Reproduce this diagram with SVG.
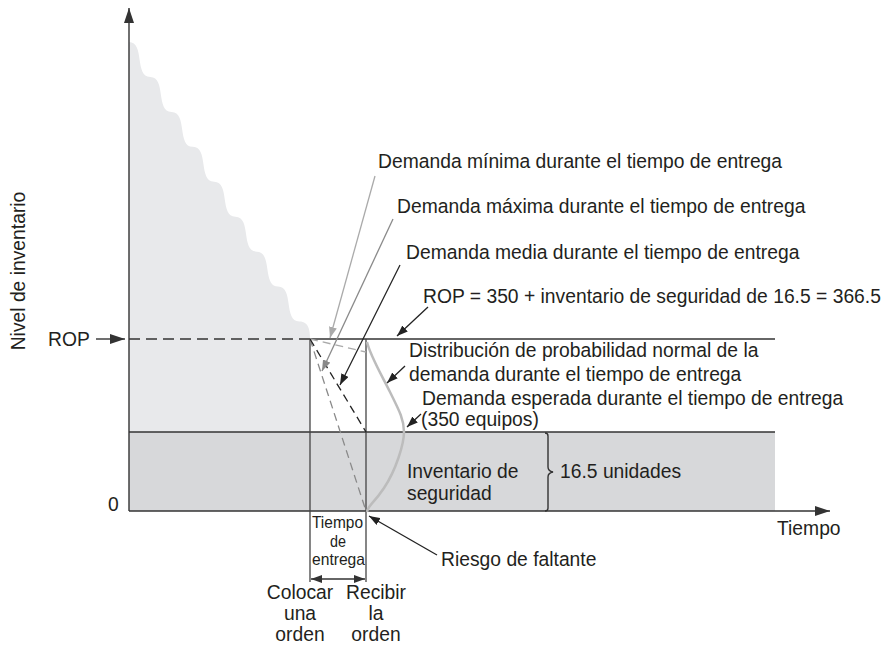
<svg xmlns="http://www.w3.org/2000/svg" width="891" height="646" viewBox="0 0 891 646">
<style>
text{font-family:"Liberation Sans",Arial,sans-serif;font-size:19.3px;fill:#231f20}
.ax{stroke:#333;stroke-width:1.4;fill:none}
.ln{stroke:#444;stroke-width:1.3;fill:none}
.cb{stroke:#222;stroke-width:1.3;fill:none}
.cg{stroke:#8a8a8a;stroke-width:1.3;fill:none}
.cl{stroke:#aaa;stroke-width:1.3;fill:none}
.mid{text-anchor:middle}
.lt{font-size:16.5px}
</style>
<defs>
<marker id="ab" markerUnits="userSpaceOnUse" markerWidth="12" markerHeight="8" refX="11" refY="4" orient="auto"><path d="M0,0 L11,4 L0,8 z" fill="#222"/></marker>
<marker id="ag" markerUnits="userSpaceOnUse" markerWidth="12" markerHeight="8" refX="11" refY="4" orient="auto"><path d="M0,0 L11,4 L0,8 z" fill="#8a8a8a"/></marker>
<marker id="al" markerUnits="userSpaceOnUse" markerWidth="12" markerHeight="8" refX="11" refY="4" orient="auto"><path d="M0,0 L11,4 L0,8 z" fill="#aaa"/></marker>
<marker id="ax" markerUnits="userSpaceOnUse" markerWidth="16" markerHeight="10" refX="15" refY="5" orient="auto"><path d="M0,0 L15,5 L0,10 z" fill="#333"/></marker>
<marker id="ae" markerUnits="userSpaceOnUse" markerWidth="12" markerHeight="8" refX="11" refY="4" orient="auto-start-reverse"><path d="M0,0 L11,4 L0,8 z" fill="#333"/></marker>
</defs>

<g id="inventory-area">
<path d="M129,42 c16,0 5.3,34.94 21.294,34.94 c16,0 5.3,34.94 21.294,34.94 c16,0 5.3,34.94 21.294,34.94 c16,0 5.3,34.94 21.294,34.94 c16,0 5.3,34.94 21.294,34.94 c16,0 5.3,34.94 21.294,34.94 c16,0 5.3,34.94 21.294,34.94 c16,0 5.3,34.94 21.294,34.94 c10,0 10.65,10 10.65,17.5 L310,511 L129,511 Z" fill="#e8e9eb"/>
</g>

<g id="safety-stock">
<rect x="129" y="432" width="646" height="79" fill="#d7d8da"/>
<line x1="129" y1="432" x2="775" y2="432" class="ax"/>
<text x="407" y="478">Inventario de</text>
<text x="407" y="500">seguridad</text>
<path d="M545,433 q3,0 3,3 V467 q0,4 5,5 q-5,1 -5,5 V508 q0,3 -3,3" class="ax"/>
<text x="560" y="478">16.5 unidades</text>
</g>

<g id="axes">
<line x1="129" y1="511" x2="129" y2="8" class="ax" marker-end="url(#ax)"/>
<line x1="129" y1="511" x2="830" y2="511" class="ax" marker-end="url(#ax)"/>
<text transform="translate(25,271) rotate(-90)" class="mid">Nivel de inventario</text>
<text x="777" y="535">Tiempo</text>
<text x="108" y="511">0</text>
<text x="48" y="346">ROP</text>
<line x1="96" y1="339" x2="125" y2="339" class="ax" marker-end="url(#ax)"/>
</g>

<g id="rop-line">
<line x1="129" y1="339" x2="310" y2="339" class="ax" stroke-dasharray="11,6"/>
<line x1="310" y1="339" x2="775" y2="339" class="ax"/>
</g>

<g id="lead-time">
<line x1="310" y1="339" x2="310" y2="582" class="ln"/>
<line x1="366" y1="339" x2="366" y2="582" class="ln"/>
<line x1="311" y1="579" x2="365" y2="579" class="ax" marker-start="url(#ae)" marker-end="url(#ae)"/>
<text x="312" y="528" class="lt" textLength="51" lengthAdjust="spacingAndGlyphs">Tiempo</text>
<text x="338" y="547" class="mid lt" textLength="16" lengthAdjust="spacingAndGlyphs">de</text>
<text x="312" y="565" class="lt" textLength="53" lengthAdjust="spacingAndGlyphs">entrega</text>
<text x="300" y="599" class="mid">Colocar</text>
<text x="300" y="620" class="mid">una</text>
<text x="300" y="641" class="mid">orden</text>
<text x="376" y="599" class="mid">Recibir</text>
<text x="376" y="620" class="mid">la</text>
<text x="376" y="641" class="mid">orden</text>
</g>

<g id="demand-lines">
<line x1="310" y1="339" x2="366" y2="352" class="cl" stroke-dasharray="8,5"/>
<line x1="310" y1="339" x2="366" y2="511" class="cg" stroke-dasharray="8,5"/>
<line x1="310" y1="339" x2="366" y2="432" class="cb" stroke-dasharray="8,5"/>
</g>

<g id="normal-curve">
<path d="M367,342 C370,355 380,372 390,392 S404,420 404,432 S396,470 384,488 S368,505 367,512" fill="none" stroke="#bcbcbc" stroke-width="2.5"/>
</g>

<g id="labels">
<text x="378" y="168">Demanda mínima durante el tiempo de entrega</text>
<text x="397" y="213">Demanda máxima durante el tiempo de entrega</text>
<text x="406" y="259">Demanda media durante el tiempo de entrega</text>
<text x="423" y="303">ROP = 350 + inventario de seguridad de 16.5 = 366.5</text>
<text x="409" y="357">Distribución de probabilidad normal de la</text>
<text x="409" y="381">demanda durante el tiempo de entrega</text>
<text x="422" y="405">Demanda esperada durante el tiempo de entrega</text>
<text x="421" y="426">(350 equipos)</text>
<text x="441" y="566">Riesgo de faltante</text>
</g>

<g id="connectors">
<line x1="375" y1="176" x2="330" y2="338" class="cl" marker-end="url(#al)"/>
<line x1="393" y1="219" x2="322" y2="371" class="cg" marker-end="url(#ag)"/>
<line x1="400" y1="265" x2="340" y2="385" class="cb" marker-end="url(#ab)"/>
<line x1="428" y1="307" x2="397" y2="336" class="cb" marker-end="url(#ab)"/>
<line x1="405" y1="366" x2="387" y2="383" class="cb" marker-end="url(#ab)"/>
<line x1="421" y1="414" x2="407" y2="427" class="cb" marker-end="url(#ab)"/>
<line x1="437" y1="555" x2="369" y2="516" class="cb" marker-end="url(#ab)"/>
</g>
</svg>
